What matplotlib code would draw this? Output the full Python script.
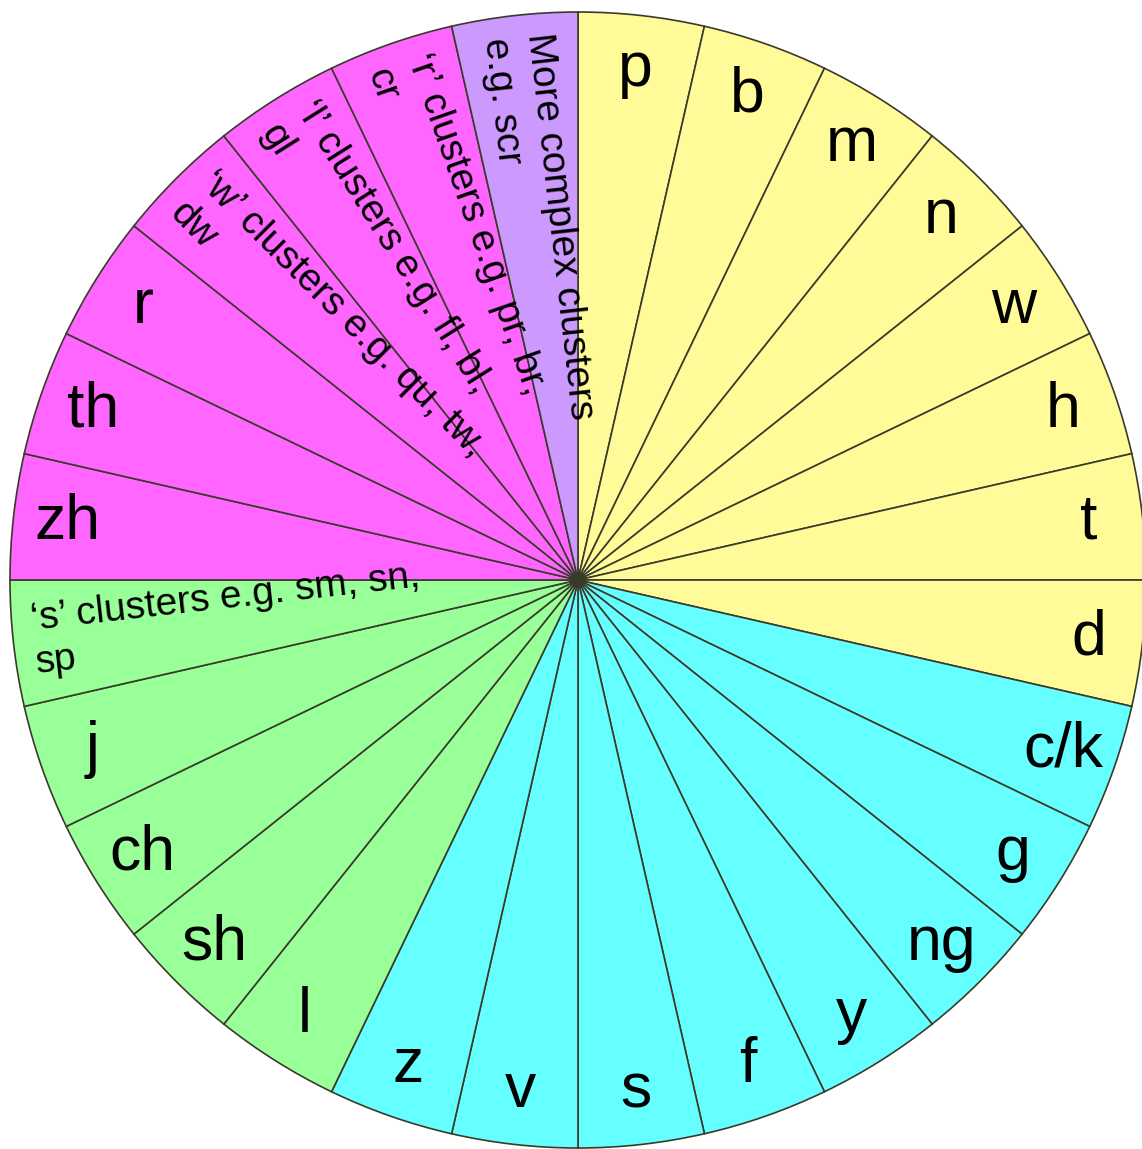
import matplotlib.pyplot as plt
import numpy as np

plt.rcParams['font.family'] = ['Liberation Sans', 'DejaVu Sans']

# clockwise from 12 o'clock, every sound gets an equal slice
labels = ['p', 'b', 'm', 'n', 'w', 'h', 't', 'd',
          'c/k', 'g', 'ng', 'y', 'f', 's', 'v', 'z',
          'l', 'sh', 'ch', 'j', '‘s’ clusters e.g. sm, sn,\nsp',
          'zh', 'th', 'r',
          '‘w’ clusters e.g. qu, tw,\ndw',
          '‘l’ clusters e.g. fl, bl,\ngl',
          '‘r’ clusters e.g. pr, br,\ncr',
          'More complex clusters\ne.g. scr']
sizes = [1] * len(labels)
groups = ['yellow'] * 8 + ['cyan'] * 8 + ['green'] * 5 + ['pink'] * 6 + ['purple']
group_colors = {'yellow': '#FFFB99', 'cyan': '#66FFFF', 'green': '#99FF99',
                'pink': '#FF66FF', 'purple': '#CC99FF'}

fig = plt.figure(figsize=(11.42, 11.49), dpi=100)
ax = fig.add_axes([0, 0, 1, 1])

wedges, _ = ax.pie(sizes, colors=[group_colors[g] for g in groups],
                   startangle=90, counterclock=False,
                   wedgeprops={'edgecolor': '#3a3a2a', 'linewidth': 1.2})

for w, lab in zip(wedges, labels):
    mid = np.deg2rad((w.theta1 + w.theta2) / 2)
    if '\n' in lab:
        # long cluster text runs from the rim towards the centre
        r = 0.965
        rot = np.rad2deg(mid) + 180
        ax.text(r * np.cos(mid), r * np.sin(mid), lab, fontsize=28,
                rotation=rot, rotation_mode='anchor', ha='left', va='center',
                multialignment='left', linespacing=1.25)
    else:
        r = 0.905
        ax.text(r * np.cos(mid), r * np.sin(mid), lab, fontsize=45,
                ha='center', va='center')

ax.set_xlim(-578 / 568, 564 / 568)
ax.set_ylim(-569 / 568, 580 / 568)
ax.set_aspect('auto')
ax.axis('off')

plt.savefig('out.png', dpi=100, facecolor='white')
